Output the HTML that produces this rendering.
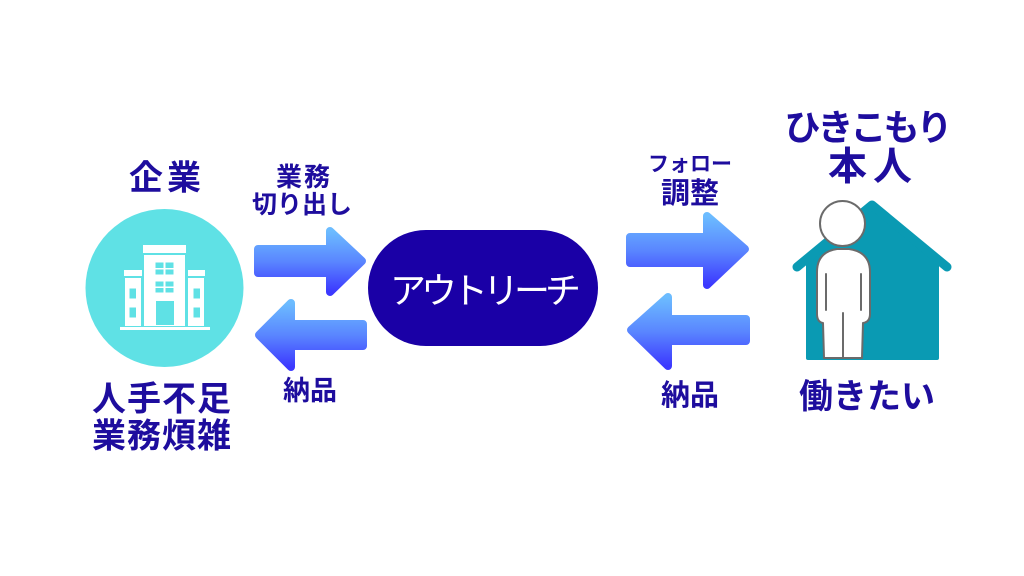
<!DOCTYPE html>
<html><head><meta charset="utf-8"><style>
html,body{margin:0;padding:0;background:#fff;}
svg{display:block;}
text{font-family:"Liberation Sans","Noto Sans CJK JP",sans-serif;}
</style></head><body>
<svg width="1024" height="576" viewBox="0 0 1024 576" xmlns="http://www.w3.org/2000/svg">
<defs>
<linearGradient id="g" x1="0" y1="0" x2="0" y2="1">
<stop offset="0" stop-color="#6cbcff"/>
<stop offset="0.5" stop-color="#5a86ff"/>
<stop offset="1" stop-color="#3c38ff"/>
</linearGradient>
</defs>
<rect width="1024" height="576" fill="#fff"/>

<!-- Company circle -->
<circle cx="164.5" cy="288" r="79" fill="#5fe1e5"/>
<g fill="#fff">
<rect x="143" y="245" width="43" height="8"/>
<rect x="144" y="255" width="41" height="71"/>
<rect x="124" y="270" width="18" height="6"/>
<rect x="125" y="278" width="16" height="48"/>
<rect x="188" y="270" width="17" height="6"/>
<rect x="188" y="278" width="16" height="48"/>
<rect x="120" y="327" width="90" height="3"/>
</g>
<g fill="#5fe1e5">
<rect x="155.5" y="262.5" width="8" height="5.5"/><rect x="165.5" y="262.5" width="8" height="5.5"/>
<rect x="155.5" y="269.5" width="8" height="5"/><rect x="165.5" y="269.5" width="8" height="5"/>
<rect x="155.5" y="281.5" width="8" height="5"/><rect x="165.5" y="281.5" width="8" height="5"/>
<rect x="155.5" y="288" width="8" height="4.5"/><rect x="165.5" y="288" width="8" height="4.5"/>
<rect x="156" y="301" width="18" height="24"/>
<rect x="129.5" y="288.5" width="6.5" height="10"/>
<rect x="129.5" y="307.5" width="6.5" height="10"/>
<rect x="193.5" y="288.5" width="6.5" height="10"/>
<rect x="193.5" y="307.5" width="6.5" height="10"/>
</g>

<!-- Arrows -->
<g fill="url(#g)" stroke="url(#g)" stroke-width="8" stroke-linejoin="round">
<path d="M258 249 L330 249 L330 231 L362 261 L330 292 L330 273 L258 273 Z"/>
<path d="M259 335 L291 303 L291 324 L363 324 L363 346 L291 346 L291 367 Z"/>
<path d="M630 237 L707 237 L707 216 L745 249 L707 285 L707 263 L630 263 Z"/>
<path d="M631 330 L668 297 L668 319 L746 319 L746 341 L668 341 L668 366 Z"/>
</g>

<!-- Pill -->
<rect x="368" y="230" width="230" height="116" rx="58" ry="58" fill="#1a00a6"/>
<text x="390" y="303" font-size="36" font-weight="400" fill="#fff" letter-spacing="-5">アウトリーチ</text>

<!-- House -->
<path d="M806 258 L872 204 L939 258 L939 358 Q939 360 937 360 L808 360 Q806 360 806 358 Z" fill="#0a9ab3"/>
<polyline points="797,267 872,205 947,267" fill="none" stroke="#0a9ab3" stroke-width="9" stroke-linecap="round" stroke-linejoin="round"/>

<!-- Person -->
<g stroke="#6b6b6b" stroke-width="2" fill="#fff" stroke-linejoin="round" stroke-linecap="round">
<path d="M824 358 L823 323 Q817 322 817 314 L817 272 Q817 252 837 249 L849 249 Q870 252 870 272 L870 314 Q870 322 863 323 L862 358 Z"/>
<path d="M826 274 L826 310 M861 274 L861 310 M843 313 L843 357" fill="none"/>
<circle cx="842.5" cy="223.5" r="22.5"/>
</g>

<!-- Texts -->
<g fill="#1e0d9e" font-weight="700" text-anchor="middle">
<text x="167" y="189.5" font-size="34" letter-spacing="4">企業</text>
<text x="162" y="410.5" font-size="34" letter-spacing="1">人手不足</text>
<text x="162" y="447.5" font-size="34" letter-spacing="1">業務煩雑</text>
<text x="304" y="186" font-size="26" letter-spacing="2">業務</text>
<text x="302" y="213" font-size="25">切り出し</text>
<text x="310" y="400" font-size="27">納品</text>
<text x="690" y="171" font-size="21">フォロー</text>
<text x="690" y="203" font-size="29">調整</text>
<text x="690" y="405" font-size="29">納品</text>
<text x="867" y="140" font-size="36" letter-spacing="-3">ひきこもり</text>
<text x="873" y="180" font-size="39" letter-spacing="6">本人</text>
<text x="867" y="408" font-size="34">働きたい</text>
</g>
</svg>
</body></html>
